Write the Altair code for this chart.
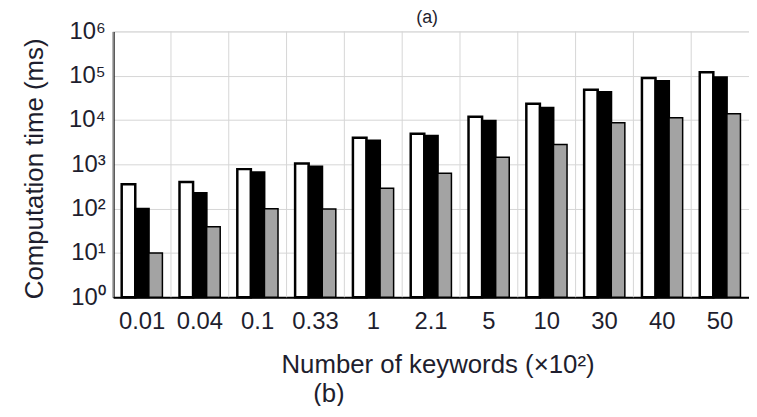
import altair as alt
import pandas as pd

categories = ["0.01", "0.04", "0.1", "0.33", "1", "2.1", "5", "10", "30", "40", "50"]
series = ["Series 1", "Series 2", "Series 3"]
white_vals = [355, 400, 780, 1050, 4000, 4900, 11800, 23300, 48000, 89000, 120000]
black_vals = [100, 225, 660, 900, 3450, 4450, 9600, 19000, 43000, 76000, 93000]
gray_vals = [10, 39, 100, 98, 290, 630, 1440, 2800, 8700, 11300, 13800]
y_ticks = [1, 10, 100, 1000, 10000, 100000, 1000000]

rows = []
for s, vals in zip(series, [white_vals, black_vals, gray_vals]):
    for c, v in zip(categories, vals):
        rows.append({"cat": c, "series": s, "value": v})
df = pd.DataFrame(rows)
cat_df = pd.DataFrame({"cat": categories})

FONT = "Liberation Sans"
TXT = "#1e1e2e"
xscale = alt.Scale(domain=categories, paddingInner=0, paddingOuter=0)

rules = alt.Chart(cat_df).mark_rule(color="#d6d6d6", strokeWidth=1).encode(
    x=alt.X("cat:N", sort=categories, scale=xscale, bandPosition=0,
            axis=alt.Axis(orient="bottom", title="(b)", labels=False, ticks=False,
                          domain=False, grid=False, titleFontSize=26,
                          titleFontWeight="normal", titleColor=TXT, titleFont=FONT,
                          titleX=217, titleY=97, titleBaseline="middle",
                          titleAlign="center"))
)

bars = alt.Chart(df).mark_bar(stroke="black").encode(
    x=alt.X("cat:N", sort=categories, scale=xscale,
            axis=alt.Axis(orient="bottom", title="Number of keywords (×10²)",
                          labelAngle=0, ticks=False, grid=False, domain=True,
                          domainColor="black", domainWidth=2,
                          labelFontSize=24, labelPadding=12, labelColor=TXT,
                          labelFont=FONT, titleFont=FONT,
                          titleFontSize=26, titleFontWeight="normal", titleColor=TXT,
                          titleX=327, titleY=68, titleBaseline="middle",
                          titleAlign="center")),
    xOffset=alt.XOffset("series:N", sort=series,
                        scale=alt.Scale(domain=series, paddingOuter=0.63, paddingInner=0)),
    y=alt.Y("value:Q",
            scale=alt.Scale(type="log", domain=[1, 1000000]),
            axis=alt.Axis(values=y_ticks,
                          labelExpr="'10' + ['⁰','¹','²','³','⁴','⁵','⁶'][round(log(datum.value)/LN10)]",
                          title="Computation time (ms)", ticks=False, grid=True,
                          gridColor="#d6d6d6", gridWidth=1,
                          domainColor="black", domainWidth=2,
                          labelFontSize=24, labelPadding=8, labelColor=TXT,
                          labelFont=FONT, titleFont=FONT,
                          titleFontSize=26, titleFontWeight="normal", titleColor=TXT,
                          titleX=-79, titleY=138, titleBaseline="middle")),
    y2=alt.datum(1),
    color=alt.Color("series:N", sort=series,
                    scale=alt.Scale(domain=series, range=["white", "black", "#a3a3a3"]),
                    legend=None),
    strokeWidth=alt.StrokeWidth("series:N", sort=series,
                                scale=alt.Scale(domain=series, range=[2.5, 1.5, 1.5]),
                                legend=None),
)

chart = alt.layer(rules, bars).resolve_axis(x="independent").properties(
    width=641,
    height=268,
    autosize=alt.AutoSizeParams(type="none"),
    padding={"left": 106, "top": 22, "right": 0, "bottom": 108},
    title=alt.TitleParams("(a)", fontSize=18, fontWeight="normal", font=FONT,
                          color=TXT, frame="group", anchor="middle", offset=0,
                          baseline="bottom", dx=-4, dy=26),
).configure_view(stroke="black", strokeWidth=2).configure(font=FONT)

chart.save("out.html", embed_options={"renderer": "svg", "actions": False})
